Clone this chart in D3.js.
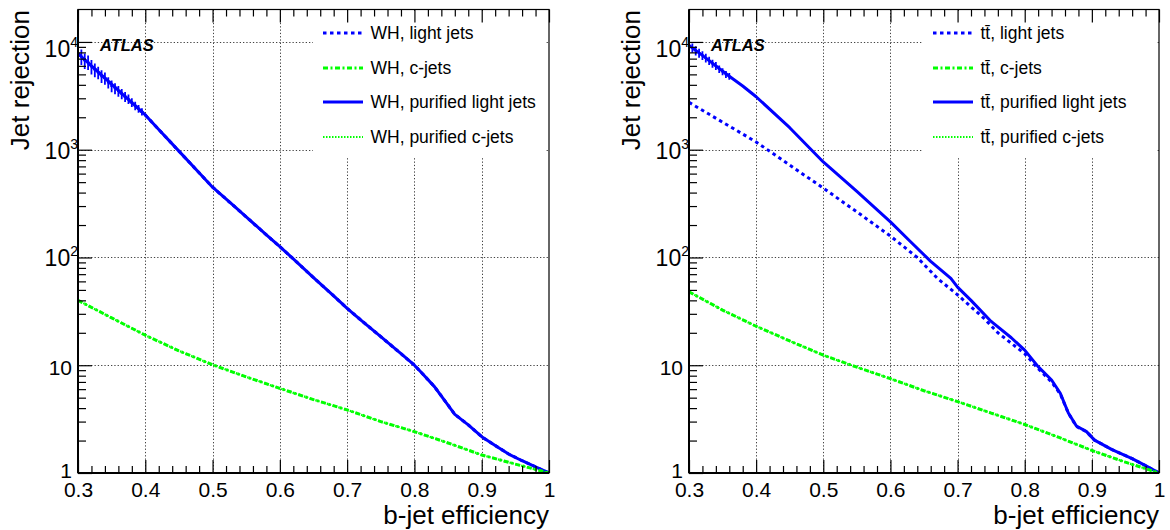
<!DOCTYPE html>
<html><head><meta charset="utf-8">
<script src="https://cdn.jsdelivr.net/npm/d3@7"></script>
<style>body{margin:0;background:#fff} svg{display:block} text{font-family:"Liberation Sans",Arial,Helvetica,sans-serif;fill:#000}</style>
</head><body><svg id="c" width="1170" height="530"></svg>
<script>
// ---------------- data ----------------
const xMajorTicks = [0.3,0.4,0.5,0.6,0.7,0.8,0.9,1.0];
const xTickLabels = ["0.3","0.4","0.5","0.6","0.7","0.8","0.9","1"];
const yMajorTicks = [1,10,100,1000,10000];
const yTickBase = ["1","10","10","10","10"];
const yTickExp  = ["","","2","3","4"];

// WH panel
const whLightEff = [0.30,0.32,0.34,0.36,0.38,0.40,0.42,0.45,0.48,0.50,0.53,0.55,0.58,0.60,0.62,0.65,0.68,0.70,0.72,0.75,0.78,0.80,0.81,0.83,0.845,0.86,0.88,0.90,0.92,0.94,0.96,0.98,1.00];
const whLightRej = [7800,5990,4610,3550,2730,2100,1540,970,611,449,307,238,162,126,97,65,44,33.7,26.4,18.4,12.8,10,8.6,6.3,4.7,3.5,2.8,2.17,1.8,1.5,1.3,1.14,1.0];
const whPurLightEff = [0.30,0.32,0.34,0.36,0.38,0.40,0.42,0.45,0.48,0.50,0.53,0.55,0.58,0.60,0.62,0.65,0.68,0.70,0.72,0.75,0.78,0.80,0.81,0.83,0.845,0.86,0.88,0.90,0.92,0.94,0.96,0.98,1.00];
const whPurLightRej = [7800,5990,4610,3550,2730,2100,1540,970,611,449,307,238,162,126,97,65,44,33.7,26.4,18.4,12.8,10,8.6,6.3,4.7,3.5,2.8,2.17,1.8,1.5,1.3,1.14,1.0];
const whCEff = [0.30,0.35,0.40,0.45,0.50,0.55,0.60,0.65,0.70,0.75,0.80,0.85,0.90,0.95,1.00];
const whCRej = [40,27.5,19,13.6,10.1,7.8,6.1,4.8,3.85,3.0,2.42,1.9,1.47,1.21,1.0];
const whPurCEff = [0.30,0.35,0.40,0.45,0.50,0.55,0.60,0.65,0.70,0.75,0.80,0.85,0.90,0.95,1.00];
const whPurCRej = [40,27.5,19,13.6,10.1,7.8,6.1,4.8,3.85,3.0,2.42,1.9,1.47,1.21,1.0];
const whErrEff = [0.300,0.305,0.310,0.315,0.320,0.325,0.330,0.335,0.340,0.345,0.350,0.355,0.360,0.365,0.370,0.375,0.380,0.385,0.390,0.395];
const whErrRej = [7800,7300,6700,6500,5900,5500,5200,4800,4600,4200,3900,3700,3500,3300,3100,2950,2750,2550,2400,2250];
const whErrUnc = [1300,1200,1100,1000,900,800,700,650,600,500,480,430,400,360,330,300,260,230,200,170];

// ttbar panel
const ttLightEff = [0.30,0.35,0.40,0.45,0.50,0.55,0.60,0.64,0.67,0.70,0.74,0.76,0.80,0.82,0.84,0.853,0.865,0.877,0.892,0.904,0.93,0.96,0.98,1.00];
const ttLightRej = [2750,1800,1180,720,440,265,158,100,64,45,27,20,12.8,9.3,7.0,5.4,3.6,2.7,2.42,2.02,1.65,1.36,1.17,1.0];
const ttPurLightEff = [0.30,0.32,0.34,0.36,0.38,0.40,0.45,0.50,0.55,0.60,0.63,0.66,0.69,0.70,0.72,0.75,0.78,0.80,0.82,0.84,0.853,0.865,0.877,0.892,0.904,0.93,0.96,0.98,1.00];
const ttPurLightRej = [9300,7500,6000,4800,3900,3100,1600,770,410,214,140,92,64,53,40,25.5,18,13.8,9.7,7.3,5.5,3.6,2.73,2.42,2.02,1.65,1.36,1.17,1.0];
const ttCEff = [0.30,0.35,0.40,0.45,0.50,0.55,0.60,0.65,0.70,0.75,0.80,0.85,0.90,0.95,1.00];
const ttCRej = [48,32.5,23,16.8,12.4,9.6,7.5,5.8,4.6,3.6,2.82,2.15,1.62,1.26,1.0];
const ttPurCEff = [0.30,0.35,0.40,0.45,0.50,0.55,0.60,0.65,0.70,0.75,0.80,0.85,0.90,0.95,1.00];
const ttPurCRej = [48,32.5,23,16.8,12.4,9.6,7.5,5.8,4.6,3.6,2.82,2.15,1.62,1.26,1.0];
const ttErrEff = [0.300,0.305,0.310,0.315,0.320,0.325,0.330,0.335,0.340,0.345,0.350,0.355,0.360];
const ttErrRej = [9300,8800,8300,7900,7500,7100,6700,6300,6000,5600,5300,5000,4800];
const ttErrUnc = [900,850,800,750,700,650,600,550,500,450,400,380,350];

const whLabels = ["WH, light jets","WH, c-jets","WH, purified light jets","WH, purified c-jets"];
const ttLabels = ["t\u0074\u0304, light jets","t\u0074\u0304, c-jets","t\u0074\u0304, purified light jets","t\u0074\u0304, purified c-jets"];

// ---------------- drawing ----------------
const svg = d3.select("#c");
const BLUE = "#0000ff", GREEN = "#00ff00";
const styles = [
  {color: BLUE,  w: 3,   dash: "3.5,3.5"},
  {color: GREEN, w: 3,   dash: "5,2.5,2,2.5"},
  {color: BLUE,  w: 3,   dash: null},
  {color: GREEN, w: 2.2, dash: "1.5,1.5"}
];

function zip(a, b) { return a.map((v, i) => [v, b[i]]); }

function panel(o) {
  const top = 9.5, bottom = 473;
  const x = d3.scaleLinear().domain([0.3, 1]).range([o.x0, o.x1]);
  const y = d3.scaleLog().domain([1, 2e4]).range([bottom, top]);
  const g = svg.append("g");
  const cid = "clip" + o.id;
  svg.append("clipPath").attr("id", cid).append("rect")
    .attr("x", o.x0).attr("y", top).attr("width", o.x1 - o.x0).attr("height", bottom - top);

  // grid
  const grid = g.append("g").attr("stroke", "#444").attr("stroke-width", 1).attr("stroke-dasharray", "1.3,2");
  [0.4,0.5,0.6,0.7,0.8,0.9].forEach(v => grid.append("line")
    .attr("x1", Math.round(x(v)) + 0.5).attr("x2", Math.round(x(v)) + 0.5).attr("y1", bottom).attr("y2", top));
  [10,100,1000,10000].forEach(v => grid.append("line")
    .attr("y1", Math.round(y(v)) + 0.5).attr("y2", Math.round(y(v)) + 0.5).attr("x1", o.x0).attr("x2", o.x1));

  // legend box (white, covers grid)
  g.append("rect").attr("x", o.lx).attr("y", top + 2).attr("width", o.x1 - o.lx - 3).attr("height", 157 - top - 2).attr("fill", "#fff");

  // curves
  const line = d3.line().x(d => x(d[0])).y(d => y(d[1]));
  const cg = g.append("g").attr("clip-path", `url(#${cid})`).attr("fill", "none").attr("stroke-linejoin", "round");
  const order = [2, 0, 1, 3];
  order.forEach(i => {
    const s = styles[i];
    cg.append("path").datum(o.series[i]).attr("d", line)
      .attr("stroke", s.color).attr("stroke-width", s.w)
      .attr("stroke-dasharray", s.dash);
  });
  // error bars on purified light jets
  const eg = cg.append("g").attr("stroke", BLUE).attr("stroke-width", 1.8);
  o.err.forEach(d => {
    eg.append("line").attr("x1", x(d[0])).attr("x2", x(d[0])).attr("y1", y(d[1] + d[2])).attr("y2", y(d[1] - d[2]));
    eg.append("line").attr("x1", x(d[0] - 0.002)).attr("x2", x(d[0] + 0.002)).attr("y1", y(d[1])).attr("y2", y(d[1]));
  });

  // axes ticks
  const xMinor = d3.range(0.32, 1.0, 0.02).filter(v => Math.abs(v * 10 - Math.round(v * 10)) > 0.01);
  const yMinor = [];
  [1,10,100,1000,10000].forEach(d => { for (let m = 2; m <= 9; m++) if (m * d < 2e4) yMinor.push(m * d); });

  const ax = g.append("g").attr("transform", `translate(0,${bottom})`)
    .call(d3.axisBottom(x).tickValues(xMajorTicks).tickSize(-13).tickPadding(9)
      .tickFormat((d, i) => xTickLabels[i]));
  ax.selectAll("text").attr("font-size", 21).attr("font-family", "Liberation Sans, Arial, sans-serif").attr("fill", "#000");
  g.append("g").attr("transform", `translate(0,${bottom})`)
    .call(d3.axisBottom(x).tickValues(xMinor).tickSize(-7).tickFormat(""));
  g.append("g").attr("transform", `translate(0,${top})`)
    .call(d3.axisTop(x).tickValues(xMajorTicks).tickSize(-13).tickFormat(""));
  g.append("g").attr("transform", `translate(0,${top})`)
    .call(d3.axisTop(x).tickValues(xMinor).tickSize(-7).tickFormat(""));
  g.append("g").attr("transform", `translate(${o.x0},0)`)
    .call(d3.axisLeft(y).tickValues(yMajorTicks).tickSize(-14).tickFormat(""));
  g.append("g").attr("transform", `translate(${o.x0},0)`)
    .call(d3.axisLeft(y).tickValues(yMinor).tickSize(-8).tickFormat(""));
  g.selectAll(".domain").remove();
  g.selectAll(".tick line").attr("stroke", "#000").attr("stroke-width", 1.2);

  // y tick labels with superscripts
  yMajorTicks.forEach((v, i) => {
    if (yTickExp[i]) {
      const t = g.append("text").attr("x", o.x0).attr("y", y(v) + (v === 10000 ? 15 : 9))
        .attr("text-anchor", "end").attr("font-size", 23);
      t.append("tspan").text(yTickBase[i]);
      t.append("tspan").attr("font-size", 14).attr("dy", -10).text(yTickExp[i]);
    } else {
      g.append("text").attr("x", o.x0 - 6).attr("y", y(v) + (v === 1 ? 5 : 9.5))
        .attr("text-anchor", "end").attr("font-size", 21).text(yTickBase[i]);
    }
  });
  // frame
  g.append("rect").attr("x", o.x0).attr("y", top).attr("width", o.x1 - o.x0).attr("height", bottom - top)
    .attr("fill", "none").attr("stroke", "#000").attr("stroke-width", 1.2);
  g.append("line").attr("x1", o.x0).attr("x2", o.x1).attr("y1", bottom).attr("y2", bottom).attr("stroke", "#000").attr("stroke-width", 2);
  g.append("line").attr("x1", o.x0).attr("x2", o.x0).attr("y1", top).attr("y2", bottom).attr("stroke", "#000").attr("stroke-width", 2);

  // axis titles
  g.append("text").attr("transform", `translate(${o.x0 - 49},10) rotate(-90)`)
    .attr("text-anchor", "end").attr("font-size", 26).text("Jet rejection");
  g.append("text").attr("x", o.x1).attr("y", 524).attr("text-anchor", "end").attr("font-size", 26).text("b-jet efficiency");

  // ATLAS
  g.append("text").attr("x", o.x0 + 22).attr("y", 51).attr("font-size", 16.5)
    .attr("font-weight", "bold").attr("font-style", "italic").text("ATLAS");

  // legend
  const ly = [33, 68, 102, 137];
  o.labels.forEach((lab, i) => {
    const s = styles[i];
    g.append("line").attr("x1", o.sx).attr("x2", o.sx + 40).attr("y1", ly[i]).attr("y2", ly[i])
      .attr("stroke", s.color).attr("stroke-width", s.w).attr("stroke-dasharray", s.dash);
    g.append("text").attr("x", o.sx + 47.5).attr("y", ly[i] + 6.3).attr("font-size", 17.5).text(lab);
  });
}

panel({
  id: "L", x0: 78, x1: 549, lx: 313, sx: 323,
  series: [zip(whLightEff, whLightRej), zip(whCEff, whCRej), zip(whPurLightEff, whPurLightRej), zip(whPurCEff, whPurCRej)],
  err: whErrEff.map((v, i) => [v, whErrRej[i], whErrUnc[i]]),
  labels: whLabels
});
panel({
  id: "R", x0: 689, x1: 1159, lx: 923, sx: 933,
  series: [zip(ttLightEff, ttLightRej), zip(ttCEff, ttCRej), zip(ttPurLightEff, ttPurLightRej), zip(ttPurCEff, ttPurCRej)],
  err: ttErrEff.map((v, i) => [v, ttErrRej[i], ttErrUnc[i]]),
  labels: ttLabels
});
</script></body></html>
